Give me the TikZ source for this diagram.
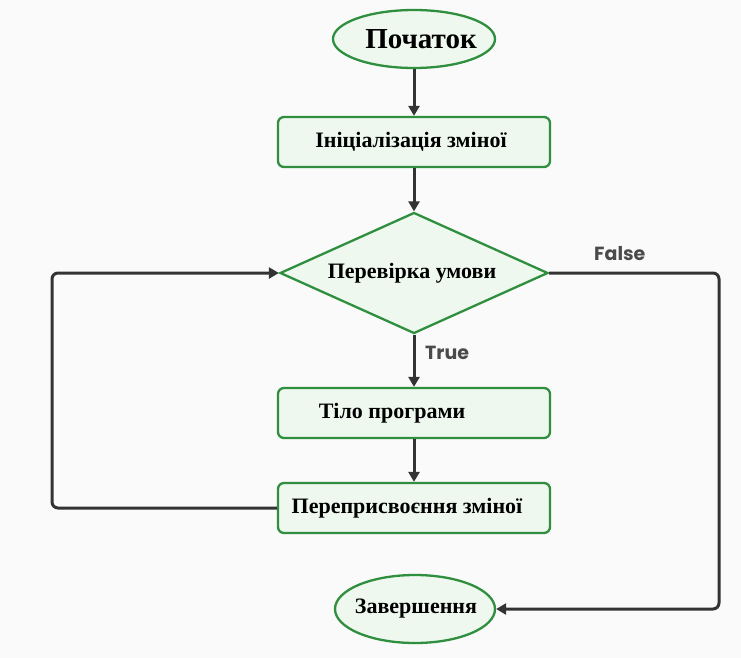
\documentclass[tikz,border=0pt]{standalone}
\usepackage{fontspec}
\setmainfont{Liberation Serif}
\newfontfamily\lblfont{Poppins}
\usetikzlibrary{shapes.geometric,arrows.meta}
\definecolor{bordergreen}{HTML}{2F8F3F}
\definecolor{fillgreen}{HTML}{EEF8EF}
\definecolor{arrowgrey}{HTML}{333333}
\definecolor{labelgrey}{HTML}{4A4A4A}
\definecolor{bgcol}{HTML}{FAFAFA}
\tikzset{
  shapebase/.style={draw=bordergreen, fill=fillgreen, line width=2.3pt, inner sep=0pt, text=black, font=\bfseries\fontsize{22}{24}\selectfont},
  termbox/.style={shapebase, ellipse},
  procbox/.style={shapebase, rectangle, rounded corners=6pt, minimum width=272pt, minimum height=50pt},
  decbox/.style={shapebase, diamond, shape aspect=2.215, minimum width=268pt, minimum height=121pt},
  plaintext/.style={draw=none, fill=none, inner sep=0pt, text=black, font=\bfseries\fontsize{22}{24}\selectfont},
  flow/.style={draw=arrowgrey, line width=3pt, rounded corners=6pt, -{Triangle[length=10pt,width=11pt]}},
  branchlbl/.style={text=labelgrey, font=\lblfont\bfseries\fontsize{19}{21}\selectfont, inner sep=0pt}
}
\begin{document}
\begin{tikzpicture}[x=1pt,y=-1pt]
\fill[bgcol] (0,0) rectangle (741,658);
\useasboundingbox (0,0) rectangle (741,658);
\node[termbox, minimum width=162pt, minimum height=58pt] (start) at (414,39) {};
\node[plaintext, font=\bfseries\fontsize{29}{31}\selectfont] (starttxt) at (421,39) {Початок};
\node[procbox] (init) at (414,142) {};
\node[plaintext] (inittxt) at (411,142) {Ініціалізація зміної};
\node[decbox] (cond) at (414,273) {};
\node[plaintext] (condtxt) at (412,273) {Перевірка умови};
\node[procbox] (body) at (414,413) {};
\node[plaintext] (bodytxt) at (392,413) {Тіло програми};
\node[procbox] (upd) at (414,508) {};
\node[plaintext] (updtxt) at (407,508) {Переприсвоєння зміної};
\node[termbox, minimum width=160pt, minimum height=68pt] (end) at (415,609) {};
\node[plaintext] (endtxt) at (416,609) {Завершення};
\coordinate (lcorner1) at (52,508);
\coordinate (lcorner2) at (52,273);
\coordinate (rcorner1) at (719,273);
\coordinate (rcorner2) at (719,609);
\draw[flow] (start) -- (init);
\draw[flow] (init) -- (cond);
\draw[flow] (cond) -- (body);
\draw[flow] (body) -- (upd);
\draw[flow] (upd.west) -- (lcorner1) -- (lcorner2) -- (cond.west);
\draw[flow] (cond.east) -- (rcorner1) -- (rcorner2) -- (end.east);
\node[branchlbl, anchor=west] (truelbl) at (425,353) {True};
\node[branchlbl, anchor=west] (falselbl) at (594,254) {False};
\end{tikzpicture}
\end{document}
